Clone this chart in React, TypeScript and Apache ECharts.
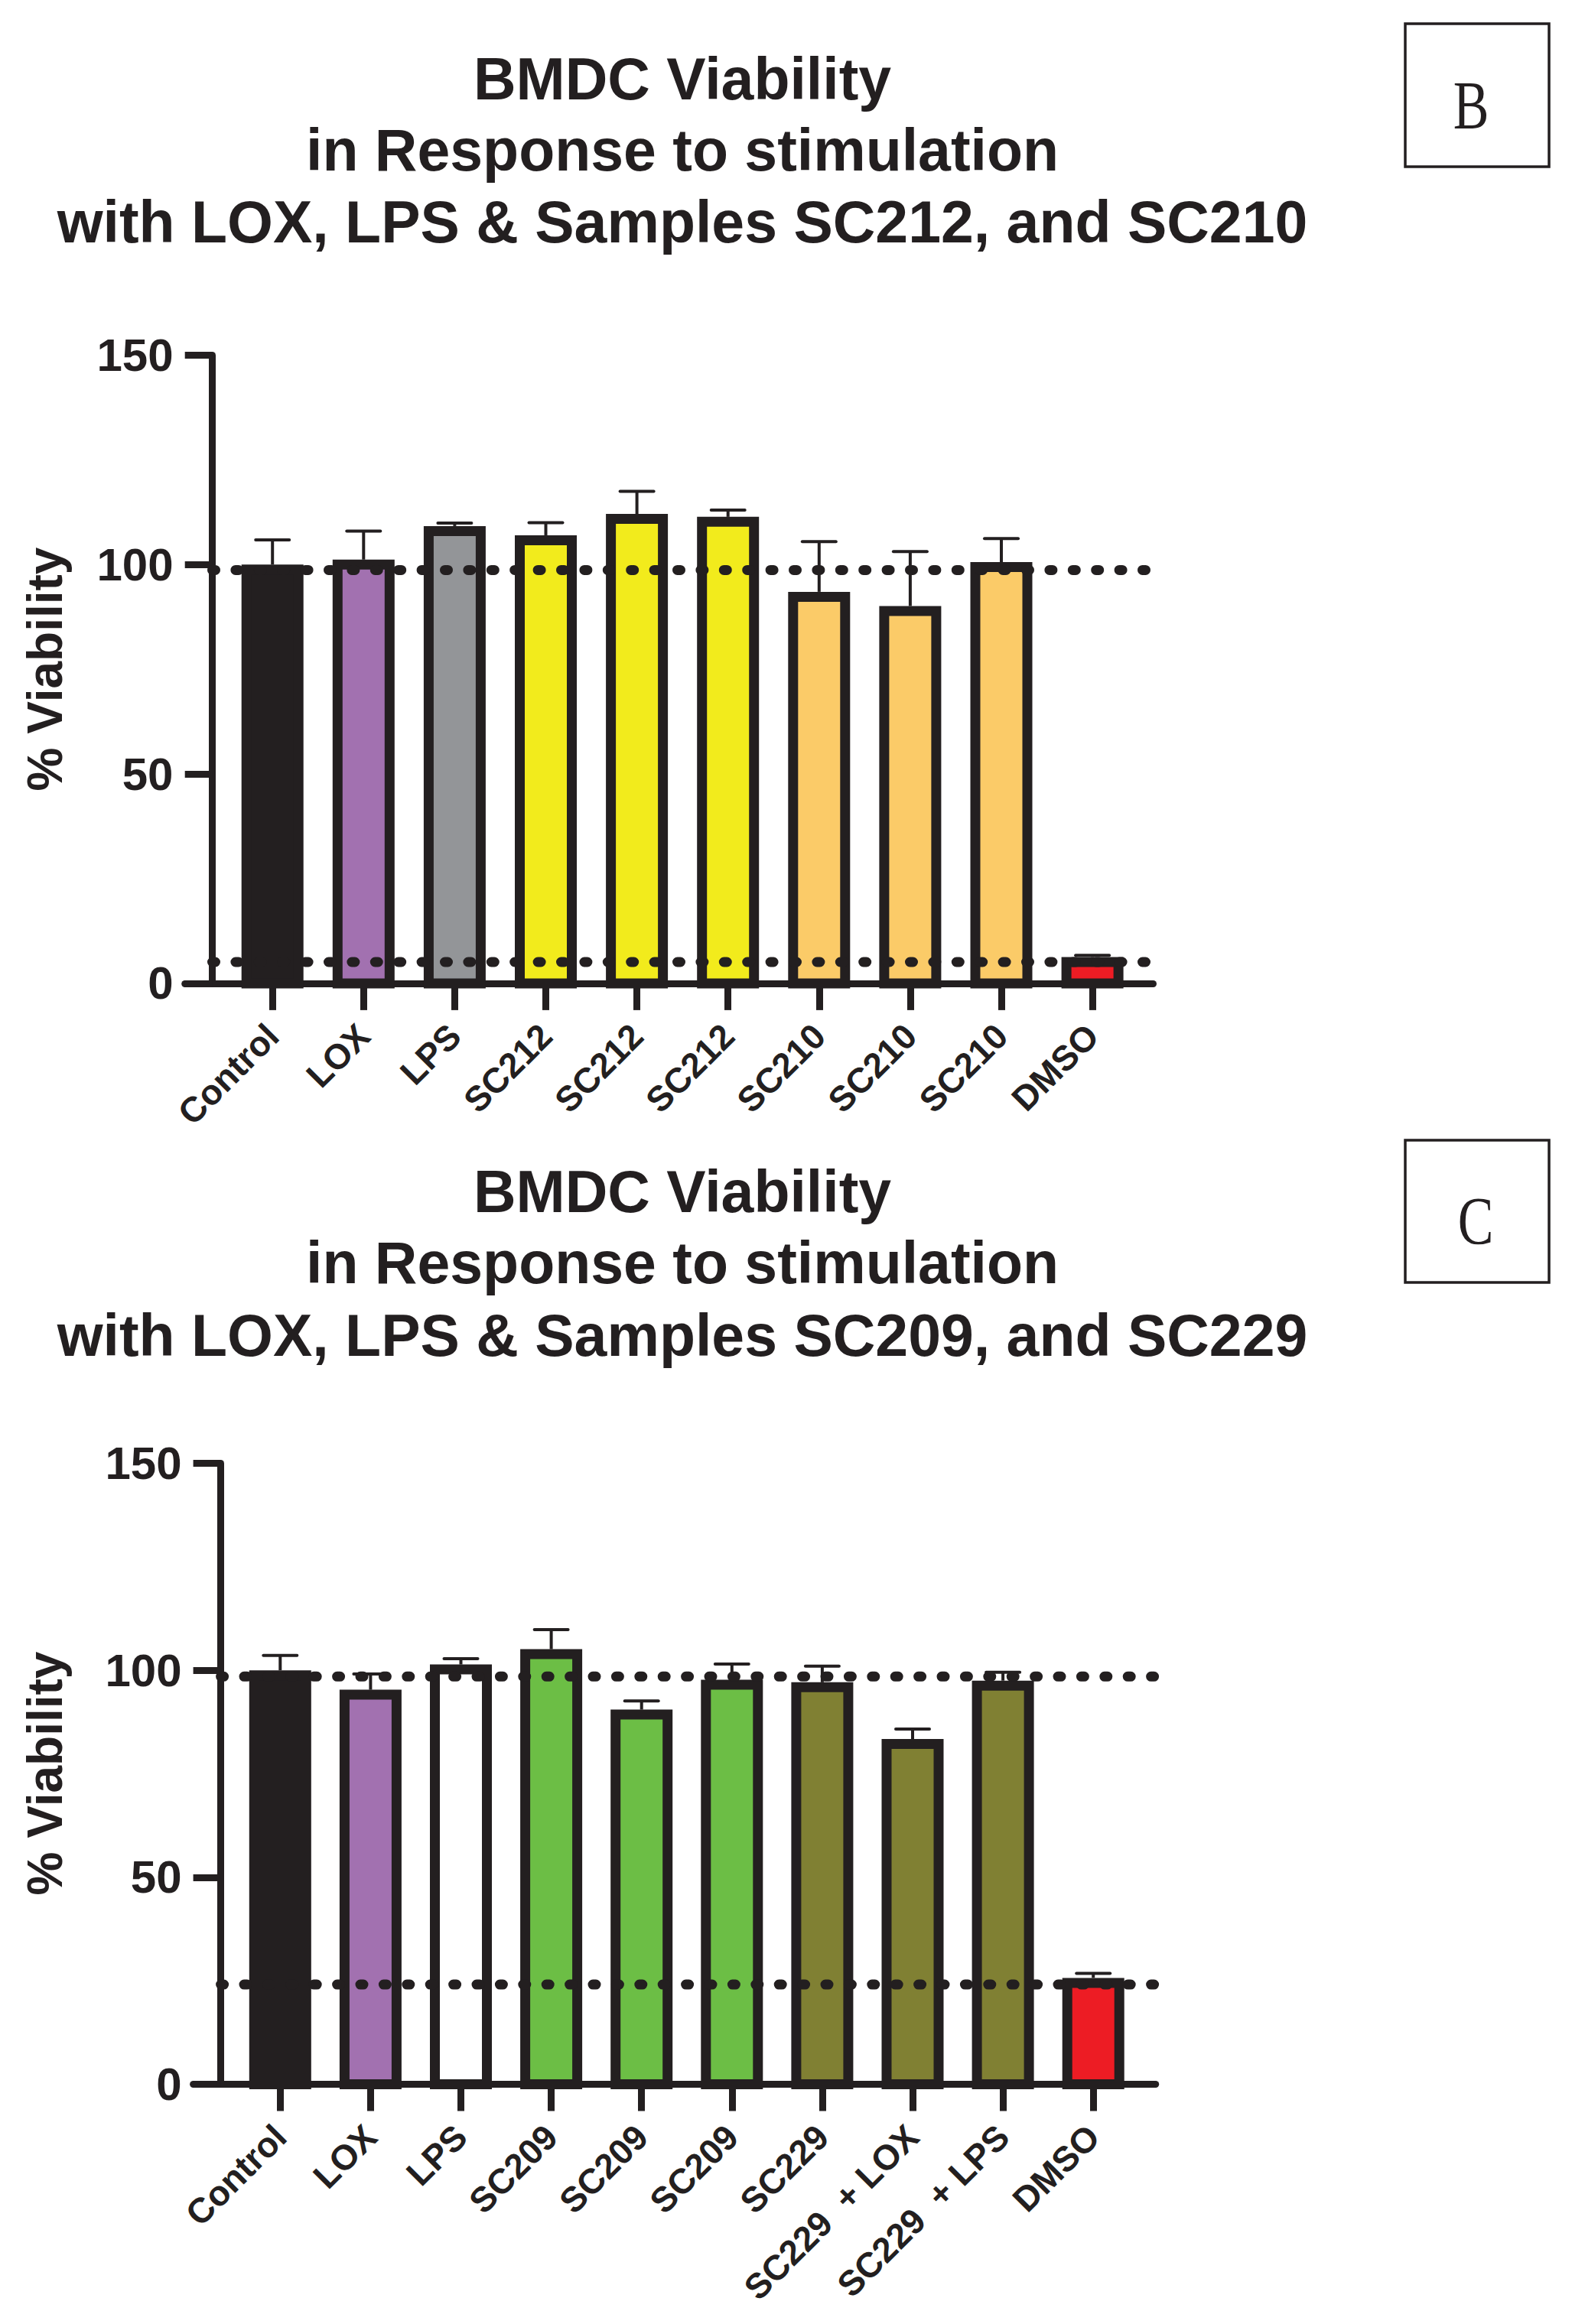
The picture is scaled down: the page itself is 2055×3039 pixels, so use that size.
import React, { useEffect, useRef } from 'react';
import * as echarts from 'echarts';

const W = 2055;
const H = 3039;
const INK = '#231f20';
const SANS = '"Liberation Sans", Arial, Helvetica, sans-serif';
const SERIF = '"Liberation Serif", "Times New Roman", serif';

// ---------- Panel B data ----------
const catsB = ['Control', 'LOX', 'LPS', 'SC212', 'SC212', 'SC212', 'SC210', 'SC210', 'SC210', 'DMSO'];
const meansB = [100, 101.2, 109.2, 107.0, 112.1, 111.4, 93.5, 90.1, 100.6, 6.3];
const errsB = [5.9, 6.8, 0.7, 3.0, 5.4, 1.6, 12.0, 13.0, 5.6, 0.4];
const colorsB = ['#231f20', '#a271b0', '#939598', '#f2eb1c', '#f2eb1c', '#f2eb1c', '#fbcb68', '#fbcb68', '#fbcb68', '#ed1c24'];
const refLinesB = [98.7, 5.1];
const titleB = ['BMDC Viability', 'in Response to stimulation', 'with LOX, LPS & Samples SC212, and SC210'];

// ---------- Panel C data ----------
const catsC = ['Control', 'LOX', 'LPS', 'SC209', 'SC209', 'SC209', 'SC229', 'SC229  + LOX', 'SC229  + LPS', 'DMSO'];
const meansC = [100, 95.3, 101.4, 105.1, 90.5, 97.7, 97.1, 83.4, 97.5, 25.7];
const errsC = [3.6, 3.8, 1.4, 4.7, 2.1, 3.8, 3.9, 2.4, 2.0, 1.1];
const colorsC = ['#231f20', '#a271b0', '#ffffff', '#6cbe45', '#6cbe45', '#6cbe45', '#808033', '#808033', '#808033', '#ed1c24'];
const refLinesC = [98.5, 24.1];
const titleC = ['BMDC Viability', 'in Response to stimulation', 'with LOX, LPS & Samples SC209, and SC229'];

const yTicks = [0, 50, 100, 150];
const yTitle = '% Viability';

// ---------- layout (pixels) ----------
const BAR_OUTER = 81;
const BAR_BORDER = 13;
const CAP_W = 44;
const ERR_W = 4;
const TITLE_SIZE = 77;

const PANELS = [
  {
    cats: catsB, means: meansB, errs: errsB, colors: colorsB, refs: refLinesB, title: titleB, letter: 'B',
    grid: { left: 241.7, top: 464.5, width: 1265.8, height: 821.4 },
    yAxisAt: 277.5, first: 356.2, step: 119.1, refStartPx: 277.5, refEndPx: 1500,
    titleBaselines: [130, 223, 317],
    box: { x: 1837, y: 31, width: 188, height: 187 }, letterPos: [1923, 137.5],
    yTitlePos: [59, 875],
  },
  {
    cats: catsC, means: meansC, errs: errsC, colors: colorsC, refs: refLinesC, title: titleC, letter: 'C',
    grid: { left: 252.6, top: 1913.5, width: 1258.1, height: 812 },
    yAxisAt: 288.6, first: 366.3, step: 118.1, refStartPx: 288.6, refEndPx: 1540,
    titleBaselines: [1585, 1678, 1773],
    box: { x: 1837, y: 1491, width: 188, height: 186 }, letterPos: [1929, 1596.5],
    yTitlePos: [59, 2319],
  },
];

function buildOption() {
  const grid: any[] = [];
  const xAxis: any[] = [];
  const yAxis: any[] = [];
  const series: any[] = [];
  const graphic: any[] = [];

  PANELS.forEach((p, pi) => {
    const idx = p.cats.map((_, i) => i);
    const xmin = (p.grid.left - p.first) / p.step;
    const xmax = (p.grid.left + p.grid.width - p.first) / p.step;
    const yOffset = p.yAxisAt - p.grid.left;

    grid.push({ ...p.grid, containLabel: false });

    xAxis.push({
      type: 'value',
      gridIndex: pi,
      min: xmin,
      max: xmax,
      splitLine: { show: false },
      axisLine: { show: true, onZero: false, lineStyle: { color: INK, width: 9 } },
      axisTick: { show: true, length: 35, customValues: idx, lineStyle: { color: INK, width: 9 } },
      axisLabel: {
        show: true,
        customValues: idx,
        formatter: (v: number) => p.cats[Math.round(v)] ?? '',
        rotate: 45,
        margin: 61,
        fontSize: 46,
        fontWeight: 'bold',
        fontFamily: SANS,
        color: INK,
      },
    });

    yAxis.push({
      type: 'value',
      gridIndex: pi,
      min: yTicks[0],
      max: yTicks[yTicks.length - 1],
      interval: yTicks[1] - yTicks[0],
      offset: -yOffset,
      splitLine: { show: false },
      axisLine: { show: true, onZero: false, lineStyle: { color: INK, width: 9 } },
      axisTick: { show: true, length: yOffset, lineStyle: { color: INK, width: 9 } },
      axisLabel: { margin: 51, fontSize: 60, fontWeight: 'bold', fontFamily: SANS, color: INK },
    });

    // error bars (behind the bars)
    series.push({
      type: 'custom',
      xAxisIndex: pi,
      yAxisIndex: pi,
      z: 2,
      clip: false,
      silent: true,
      data: p.means.map((v, i) => [i, v, p.errs[i]]),
      encode: { x: 0, y: 1 },
      renderItem: (params: any, api: any) => {
        const i = api.value(0);
        const v = api.value(1);
        const e = api.value(2);
        const a = api.coord([i, v]);
        const b = api.coord([i, v + e]);
        return {
          type: 'group',
          children: [
            { type: 'line', shape: { x1: a[0], y1: a[1], x2: b[0], y2: b[1] }, style: { stroke: INK, lineWidth: ERR_W } },
            {
              type: 'line',
              shape: { x1: b[0] - CAP_W / 2, y1: b[1], x2: b[0] + CAP_W / 2, y2: b[1] },
              style: { stroke: INK, lineWidth: ERR_W, lineCap: 'round' },
            },
          ],
        };
      },
    });

    // bars: outlined, stroke kept inside the bar outline
    series.push({
      type: 'custom',
      xAxisIndex: pi,
      yAxisIndex: pi,
      z: 3,
      clip: false,
      silent: true,
      data: p.means.map((v, i) => [i, v]),
      encode: { x: 0, y: 1 },
      renderItem: (params: any, api: any) => {
        const i = api.value(0);
        const v = api.value(1);
        const top = api.coord([i, v]);
        const base = api.coord([i, 0]);
        const hb = BAR_BORDER / 2;
        return {
          type: 'rect',
          shape: {
            x: top[0] - BAR_OUTER / 2 + hb,
            y: top[1] + hb,
            width: BAR_OUTER - BAR_BORDER,
            height: Math.max(0, base[1] - top[1] - hb),
          },
          style: { fill: p.colors[i], stroke: INK, lineWidth: BAR_BORDER },
        };
      },
    });

    // dotted reference lines
    const xs = (p.refStartPx - p.first) / p.step;
    const xe = (p.refEndPx - p.first) / p.step;
    p.refs.forEach((rv) => {
      series.push({
        type: 'line',
        xAxisIndex: pi,
        yAxisIndex: pi,
        z: 5,
        clip: false,
        silent: true,
        symbol: 'none',
        showSymbol: false,
        data: [[xs, rv], [xe, rv]],
        lineStyle: { color: INK, width: 13, type: [4, 26.4], cap: 'round' },
      });
    });

    // titles
    p.title.forEach((t, k) => {
      graphic.push({
        type: 'text',
        x: 892,
        y: p.titleBaselines[k] - 0.3465 * TITLE_SIZE,
        style: {
          text: t,
          fill: INK,
          fontSize: TITLE_SIZE,
          fontWeight: 'bold',
          fontFamily: SANS,
          align: 'center',
          verticalAlign: 'middle',
          textAlign: 'center',
          textVerticalAlign: 'middle',
        },
      });
    });

    // panel letter box
    graphic.push({
      type: 'rect',
      shape: p.box,
      style: { fill: '#ffffff', stroke: INK, lineWidth: 3.5 },
    });
    graphic.push({
      type: 'text',
      x: p.letterPos[0],
      y: p.letterPos[1],
      scaleY: 1.27,
      style: {
        text: p.letter,
        fill: INK,
        fontSize: 70,
        fontFamily: SERIF,
        align: 'center',
        verticalAlign: 'middle',
        textAlign: 'center',
        textVerticalAlign: 'middle',
      },
    });

    // y-axis title
    graphic.push({
      type: 'text',
      x: p.yTitlePos[0],
      y: p.yTitlePos[1],
      rotation: Math.PI / 2,
      style: {
        text: yTitle,
        fill: INK,
        fontSize: 64,
        fontWeight: 'bold',
        fontFamily: SANS,
        align: 'center',
        verticalAlign: 'middle',
        textAlign: 'center',
        textVerticalAlign: 'middle',
      },
    });
  });

  return {
    animation: false,
    backgroundColor: '#ffffff',
    grid,
    xAxis,
    yAxis,
    series,
    graphic,
  };
}

export default function App() {
  const ref = useRef<HTMLDivElement>(null);
  useEffect(() => {
    if (!ref.current) return;
    const chart = echarts.init(ref.current, null, { renderer: 'svg', width: W, height: H });
    chart.setOption(buildOption() as any);
    return () => chart.dispose();
  }, []);
  return (
    <div
      ref={ref}
      style={{ position: 'absolute', left: 0, top: 0, width: W, height: H, background: '#ffffff' }}
    />
  );
}
